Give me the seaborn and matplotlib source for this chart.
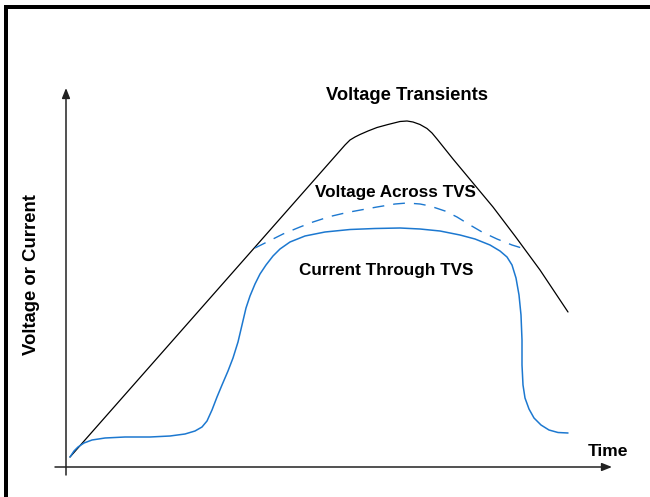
import numpy as np
import pandas as pd
import matplotlib
matplotlib.use("Agg")
import matplotlib.pyplot as plt
from matplotlib.patches import Rectangle
import seaborn as sns

# curves (time, value in arbitrary units)
transient_t = [0.8, 55.8, 56.8, 57.8, 58.8, 60.4, 62.2, 64.4, 66.8, 68.2, 69.4, 70.8, 72.2, 73.2,
               74.2, 75.8, 77.4, 79.4, 81.4, 85.4, 89.8, 94.8, 100.4]
transient_v = [2.5, 80.5, 81.75, 82.5, 83.125, 84.0, 84.875, 85.625, 86.375, 86.5, 86.25, 85.625,
               84.625, 83.5, 82.0, 79.5, 77.0, 74.0, 71.0, 65.0, 57.75, 49.25, 38.75]

tvs_volt_t = [37.8, 39.8, 43.4, 46.8, 49.4, 52.8, 56.2, 62.2, 65.8, 68.2, 70.8, 72.8, 75.8, 78.2,
              80.8, 83.2, 86.2, 89.2, 91.8]
tvs_volt_v = [54.75, 56.0, 58.25, 60.0, 61.25, 62.625, 63.625, 65.0, 65.75, 66.0, 65.75, 65.25,
              64.0, 62.5, 60.5, 58.75, 57.0, 55.5, 54.5]

tvs_curr_t = [0.8, 1.6, 2.4, 3.6, 5.2, 7.8, 11.8, 16.8, 20.8, 23.8, 25.8, 27.2, 28.2, 29.2, 30.2,
              31.2, 32.4, 33.4, 34.4, 35.2, 36.0, 36.8, 37.8, 38.8, 40.0, 41.4, 42.8, 44.8, 47.8,
              51.8, 56.8, 61.8, 66.8, 70.8, 74.8, 78.8, 81.8, 84.8, 86.8, 88.2, 89.2, 90.0, 90.6,
              91.0, 91.2, 91.2, 91.4, 91.8, 92.6, 93.6, 95.0, 96.6, 98.4, 100.4]
tvs_curr_v = [2.5, 4.0, 5.0, 6.0, 6.75, 7.25, 7.5, 7.5, 7.75, 8.25, 9.0, 10.0, 11.5, 14.25, 17.5,
              20.5, 24.0, 27.25, 31.25, 35.5, 39.75, 42.75, 45.75, 48.25, 50.5, 52.75, 54.5, 56.25,
              57.75, 58.75, 59.375, 59.625, 59.75, 59.5, 59.0, 58.0, 57.0, 55.5, 54.0, 52.5, 50.5,
              47.25, 43.0, 38.0, 31.75, 25.5, 20.5, 17.25, 14.5, 12.25, 10.5, 9.25, 8.625, 8.5]

sns.set_style("white")
plt.rcParams['font.family'] = ['Liberation Sans', 'DejaVu Sans']
plt.rcParams['text.color'] = 'black'

fig = plt.figure(figsize=(6.5, 4.97), dpi=100)
ax = fig.add_axes([0, 0, 1, 1])
ax.axis("off")
ax.set_xlim(-13.2, 116.8)
ax.set_ylim(-7.5, 116.75)

blue = "#1c78d0"
df_tr = pd.DataFrame({"t": transient_t, "v": transient_v})
df_vv = pd.DataFrame({"t": tvs_volt_t, "v": tvs_volt_v})
df_cc = pd.DataFrame({"t": tvs_curr_t, "v": tvs_curr_v})

sns.lineplot(data=df_tr, x="t", y="v", sort=False, estimator=None, color="black", lw=0.9, ax=ax)
sns.lineplot(data=df_cc, x="t", y="v", sort=False, estimator=None, color=blue, lw=1.1, ax=ax)
sns.lineplot(data=df_vv, x="t", y="v", sort=False, estimator=None, color=blue, lw=1.0, ax=ax)
ax.lines[-1].set_dashes((8.5, 6.5))
for ln in ax.lines:
    ln.set_solid_joinstyle("round")

# axes with arrows
arrow = dict(arrowstyle="-|>,head_length=0.5,head_width=0.2", color="#222222", lw=1.1,
             mutation_scale=12, shrinkA=0, shrinkB=0)
ax.annotate("", xy=(109.2, 0), xytext=(-2.2, 0), arrowprops=arrow)
ax.annotate("", xy=(0, 94.75), xytext=(0, -2), arrowprops=arrow)

ax.text(68.2, 93.0, "Voltage Transients", ha="center", va="center", fontsize=13.2, fontweight="bold")
ax.text(65.9, 68.75, "Voltage Across TVS", ha="center", va="center", fontsize=12.3, fontweight="bold")
ax.text(64.0, 49.0, "Current Through TVS", ha="center", va="center", fontsize=12.35, fontweight="bold")
ax.text(108.4, 4.0, "Time", ha="center", va="center", fontsize=12.6, fontweight="bold")
ax.text(-6.8, 48.0, "Voltage or Current", ha="center", va="center", rotation=90,
        fontsize=13.3, fontweight="bold")

# frame border (left and top)
fig.add_artist(Rectangle((4 / 650, 0), 4 / 650, 492 / 497, transform=fig.transFigure,
                         color="black", lw=0))
fig.add_artist(Rectangle((4 / 650, 488 / 497), 646 / 650, 4 / 497, transform=fig.transFigure,
                         color="black", lw=0))

fig.savefig("out.png", dpi=100)
